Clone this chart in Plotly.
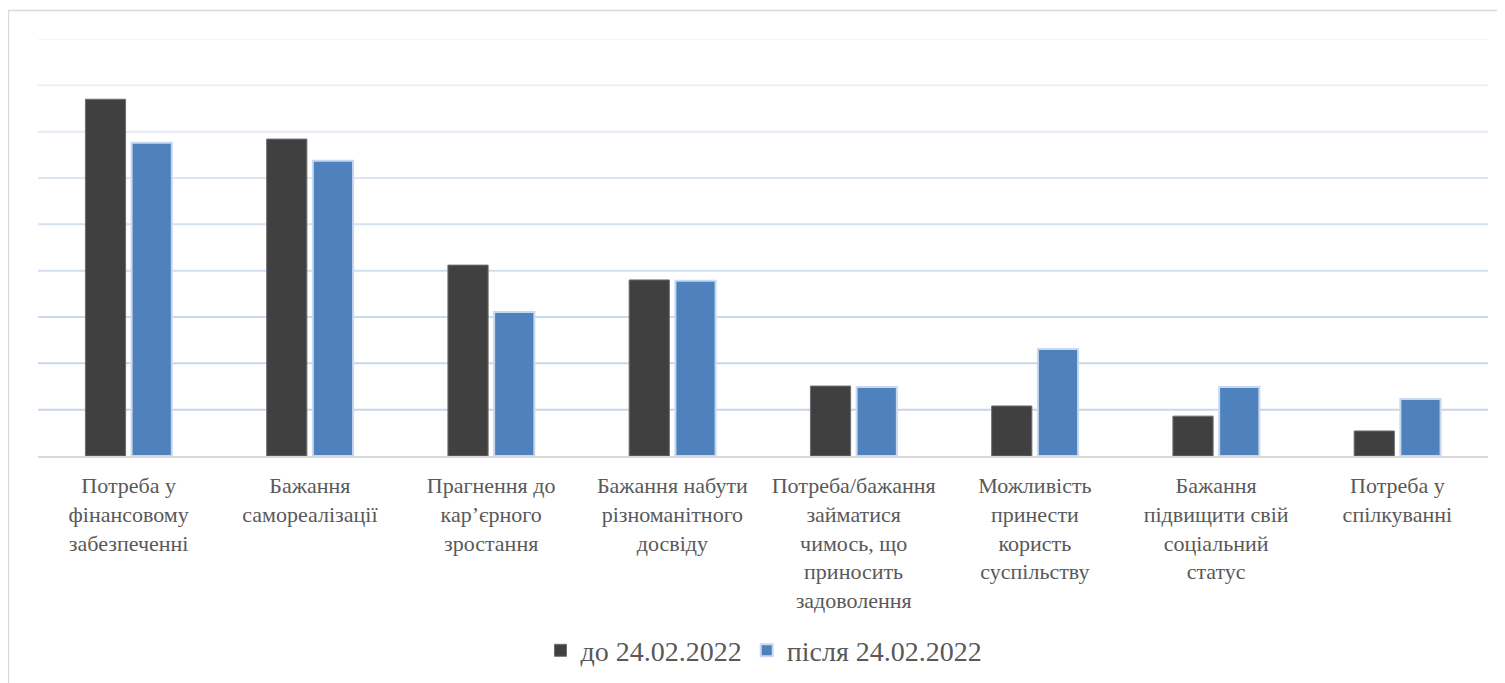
import plotly.graph_objects as go

categories = [
    "Потреба у<br>фінансовому<br>забезпеченні",
    "Бажання<br>самореалізації",
    "Прагнення до<br>кар’єрного<br>зростання",
    "Бажання набути<br>різноманітного<br>досвіду",
    "Потреба/бажання<br>займатися<br>чимось, що<br>приносить<br>задоволення",
    "Можливість<br>принести<br>користь<br>суспільству",
    "Бажання<br>підвищити свій<br>соціальний<br>статус",
    "Потреба у<br>спілкуванні",
]
before_values = [77.0, 68.4, 41.2, 38.0, 15.1, 10.8, 8.6, 5.4]
after_values = [67.6, 63.7, 31.1, 37.8, 14.9, 23.1, 14.9, 12.3]
series_names = ["до 24.02.2022", "після 24.02.2022"]
grid_values = [10, 20, 30, 40, 50, 60, 70, 80, 90]
grid_colors = ["#c6d6ec", "#c9d8ed", "#ccdaee", "#d1def0", "#d6e1f1",
               "#dce6f3", "#e3ebf6", "#ebf0f8", "#f2f5fb"]

font_family = "Liberation Serif, DejaVu Serif, serif"
text_color = "#595959"

fig = go.Figure()
fig.add_trace(go.Bar(
    x=categories, y=before_values, name=series_names[0],
    marker=dict(color="#404040", line=dict(color="#6e6e6e", width=1)),
))
fig.add_trace(go.Bar(
    x=categories, y=after_values, name=series_names[1],
    marker=dict(color="#4f81bd", line=dict(color="#c6d9f1", width=2)),
))

shapes = []
for v, c in zip(grid_values, grid_colors):
    shapes.append(dict(type="line", xref="paper", x0=0, x1=1, yref="y", y0=v, y1=v,
                       line=dict(color=c, width=2), layer="below"))
shapes.append(dict(type="rect", xref="paper", yref="paper",
                   x0=-0.0204, x1=1.03, y0=-0.7, y1=1.0683,
                   line=dict(color="#d9d9d9", width=1.5), layer="below"))

fig.update_layout(
    width=1497, height=675,
    margin=dict(l=30, r=17, t=31, b=227),
    paper_bgcolor="white", plot_bgcolor="white",
    barmode="group", bargap=0.49, bargroupgap=0.13,
    font=dict(family=font_family, color=text_color, size=23),
    showlegend=True,
    legend=dict(orientation="h", xref="container", yref="container",
                x=0.505, xanchor="center", y=0.048, yanchor="middle",
                font=dict(size=28, family=font_family, color=text_color),
                itemwidth=30, traceorder="normal"),
    shapes=shapes,
    xaxis=dict(showline=True, linecolor="#d9d9d9", linewidth=2, ticks="",
               tickfont=dict(size=22, family=font_family, color=text_color),
               ticklabelstandoff=9, showgrid=False, automargin=False),
    yaxis=dict(range=[0, 90], showgrid=False, showticklabels=False, zeroline=False,
               showline=False, automargin=False),
)

fig.write_html("out.html")
